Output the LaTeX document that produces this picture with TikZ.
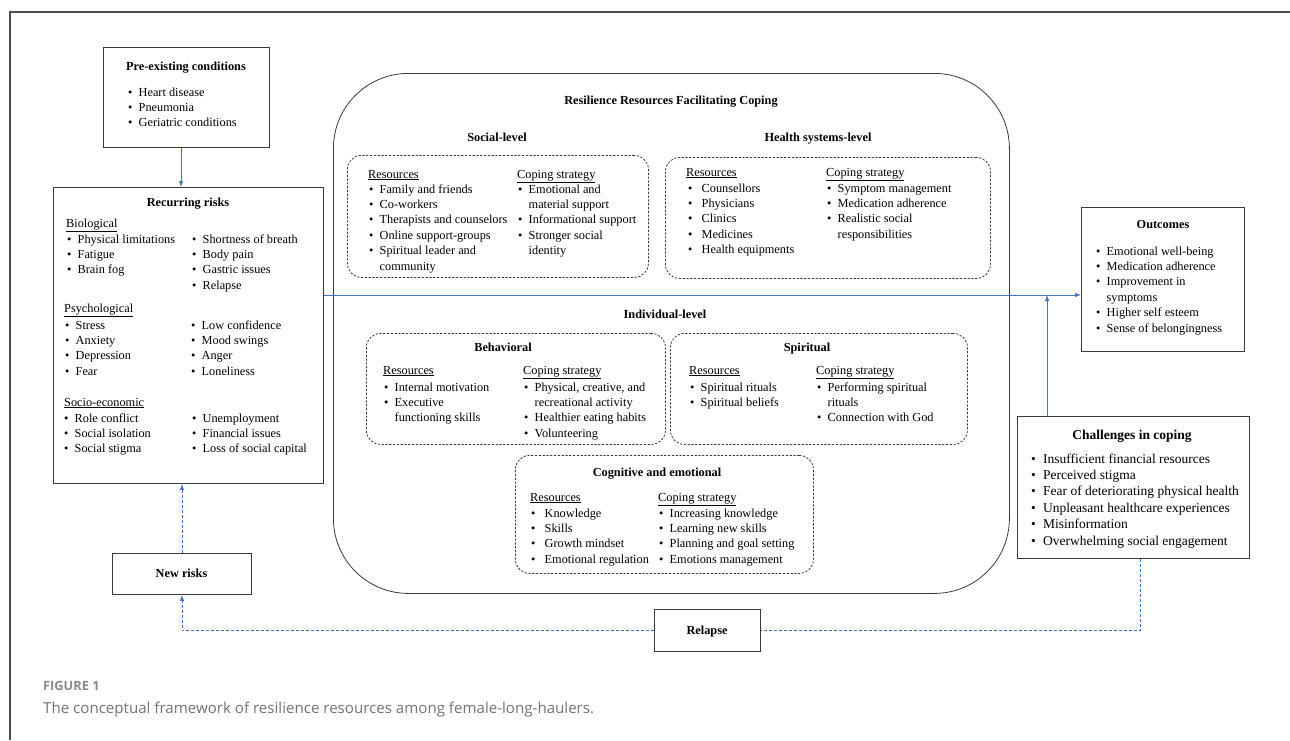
\documentclass[tikz,border=0pt]{standalone}
\usepackage{fontspec}
\setmainfont{Liberation Serif}
\newfontfamily\capfont{Open Sans}
\usetikzlibrary{arrows.meta,calc}
\definecolor{lnk}{HTML}{4472C4}
\definecolor{bxc}{HTML}{3A3A3A}
\definecolor{capa}{HTML}{8A8A8A}
\definecolor{capb}{HTML}{737373}
\newcommand\myb[1][10.5pt]{\makebox[#1][l]{\textbullet}}
\newcommand\myc[1][10.5pt]{\hspace*{#1}}
\tikzset{
  box/.style={draw=bxc, line width=0.9pt, fill=white, inner sep=0pt, anchor=north west},
  dbox/.style={draw=bxc, dash pattern=on 2.2pt off 1.6pt, line width=0.8pt, rounded corners=14pt, inner sep=0pt, anchor=north west},
  ttl/.style={font=\fontsize{12.3}{15}\selectfont\bfseries, inner sep=0pt, anchor=base},
  lst/.style={font=\fontsize{12.3}{15.4}\selectfont, align=left, inner sep=0pt, anchor=north west},
  hd/.style={font=\fontsize{12.3}{15.4}\selectfont, inner sep=0pt, anchor=base west},
  arr/.style={draw=lnk, line width=0.8pt, -{Latex[length=6pt,width=4.5pt]}},
  darr/.style={arr, dash pattern=on 3pt off 2pt},
  dln/.style={draw=lnk, line width=0.8pt, dash pattern=on 3pt off 2pt},
}
\begin{document}
\begin{tikzpicture}[x=1pt,y=-1pt]
\useasboundingbox (0,0) rectangle (1290,740);
% frame
\draw[line width=1.3pt, draw=black!70] (10,740) -- (10,12) -- (1290,12);

% big rounded container
\node[draw=bxc, line width=0.8pt, rounded corners=75pt, anchor=north west, minimum width=676, minimum height=520, inner sep=0pt] (rrc) at (333,73) {};
\node[ttl] (rrct) at (671,104) {Resilience Resources Facilitating Coping};

% Pre-existing conditions
\node[box, minimum width=166, minimum height=100] (pre) at (103,47) {};
\node[ttl] (pret) at (186,70) {Pre-existing conditions};
\node[lst] (prel) at (128,85.2) {\strut\myb Heart disease\\ \myb Pneumonia\\ \myb Geriatric conditions};

% Recurring risks
\node[box, minimum width=270, minimum height=296] (rr) at (53,187) {};
\node[ttl] (rrt) at (188,206) {Recurring risks};
\node[hd] (bioh) at (66,227) {\underline{Biological}};
\node[lst] (bio1) at (67,232.2) {\strut\myb Physical limitations\\ \myb Fatigue\\ \myb Brain fog};
\node[lst] (bio2) at (192,232.2) {\strut\myb Shortness of breath\\ \myb Body pain\\ \myb Gastric issues\\ \myb Relapse};
\node[hd] (psyh) at (64,312) {\underline{Psychological}};
\node[lst] (psy1) at (65,318.2) {\strut\myb Stress\\ \myb Anxiety\\ \myb Depression\\ \myb Fear};
\node[lst] (psy2) at (191,318.2) {\strut\myb Low confidence\\ \myb Mood swings\\ \myb Anger\\ \myb Loneliness};
\node[hd] (soch) at (64,406) {\underline{Socio-economic}};
\node[lst] (soc1) at (64,411.2) {\strut\myb Role conflict\\ \myb Social isolation\\ \myb Social stigma};
\node[lst] (soc2) at (192,411.2) {\strut\myb Unemployment\\ \myb Financial issues\\ \myb Loss of social capital};

% New risks & Relapse
\node[box, minimum width=139, minimum height=41] (newr) at (112,553) {};
\node[ttl] (newrt) at (181.5,577) {New risks};
\node[box, minimum width=106, minimum height=42] (relapse) at (654,609) {};
\node[ttl] (relapset) at (707,634) {Relapse};

% Social-level
\node[ttl] (slt) at (497,141) {Social-level};
\node[dbox, minimum width=301, minimum height=122] (sbox) at (347,155) {};
\node[hd] (srh) at (368,178) {\underline{Resources}};
\node[lst] (srl) at (369,182.2) {\strut\myb Family and friends\\ \myb Co-workers\\ \myb Therapists and counselors\\ \myb Online support-groups\\ \myb Spiritual leader and\\ \myc community};
\node[hd] (sch) at (517,178) {\underline{Coping strategy}};
\node[lst] (scl) at (518,182.2) {\strut\myb Emotional and\\ \myc material support\\ \myb Informational support\\ \myb Stronger social\\ \myc identity};

% Health systems-level
\node[ttl] (hlt) at (818,141) {Health systems-level};
\node[dbox, minimum width=325, minimum height=121] (hbox) at (665,157) {};
\node[hd] (hrh) at (686,176) {\underline{Resources}};
\node[lst] (hrl) at (688,181.2) {\strut\myb[13.5pt]Counsellors\\ \myb[13.5pt]Physicians\\ \myb[13.5pt]Clinics\\ \myb[13.5pt]Medicines\\ \myb[13.5pt]Health equipments};
\node[hd] (hch) at (826,176) {\underline{Coping strategy}};
\node[lst] (hcl) at (827,181.2) {\strut\myb Symptom management\\ \myb Medication adherence\\ \myb Realistic social\\ \myc responsibilities};

% Individual-level
\node[ttl] (ilt) at (665,318) {Individual-level};

% Behavioral
\node[dbox, minimum width=299, minimum height=111] (bbox) at (366,333) {};
\node[ttl] (bt) at (503,351) {Behavioral};
\node[hd] (brh) at (383,374) {\underline{Resources}};
\node[lst] (brl) at (384,380.2) {\strut\myb Internal motivation\\ \myb Executive\\ \myc functioning skills};
\node[hd] (bch) at (523,374) {\underline{Coping strategy}};
\node[lst] (bcl) at (524,380.2) {\strut\myb Physical, creative, and\\ \myc recreational activity\\ \myb Healthier eating habits\\ \myb Volunteering};

% Spiritual
\node[dbox, minimum width=297, minimum height=111] (spbox) at (670,333) {};
\node[ttl] (spt) at (807,351) {Spiritual};
\node[hd] (sprh) at (689,374) {\underline{Resources}};
\node[lst] (sprl) at (690,380.2) {\strut\myb Spiritual rituals\\ \myb Spiritual beliefs};
\node[hd] (spch) at (816,374) {\underline{Coping strategy}};
\node[lst] (spcl) at (817,380.2) {\strut\myb Performing spiritual\\ \myc rituals\\ \myb Connection with God};

% Cognitive and emotional
\node[dbox, minimum width=298, minimum height=118] (cbox) at (515,455) {};
\node[ttl] (ct) at (657,476) {Cognitive and emotional};
\node[hd] (crh) at (530,501) {\underline{Resources}};
\node[lst] (crl) at (531,506.2) {\strut\myb[13.5pt]Knowledge\\ \myb[13.5pt]Skills\\ \myb[13.5pt]Growth mindset\\ \myb[13.5pt]Emotional regulation};
\node[hd] (cch) at (658,501) {\underline{Coping strategy}};
\node[lst] (ccl) at (659,506.2) {\strut\myb Increasing knowledge\\ \myb Learning new skills\\ \myb Planning and goal setting\\ \myb Emotions management};

% Outcomes
\node[box, minimum width=163, minimum height=144] (out) at (1081,207) {};
\node[ttl] (outt) at (1163,228) {Outcomes};
\node[lst] (outl) at (1096,244.2) {\strut\myb Emotional well-being\\ \myb Medication adherence\\ \myb Improvement in\\ \myc symptoms\\ \myb Higher self esteem\\ \myb Sense of belongingness};

% Challenges in coping
\node[box, minimum width=232, minimum height=142] (chal) at (1017,416) {};
\node[ttl, font=\fontsize{13.5}{16}\selectfont\bfseries] (chalt) at (1132,439.5) {Challenges in coping};
\node[lst, font=\fontsize{13.5}{16.4}\selectfont] (chall) at (1031,451.5) {\strut\myb[12pt]Insufficient financial resources\\ \myb[12pt]Perceived stigma\\ \myb[12pt]Fear of deteriorating physical health\\ \myb[12pt]Unpleasant healthcare experiences\\ \myb[12pt]Misinformation\\ \myb[12pt]Overwhelming social engagement};

% connectors
\coordinate (cx1) at (181,0);
\coordinate (cx2) at (1140,0);
\coordinate (cx3) at (1047,0);
\coordinate (hy) at (0,295);
\draw[arr] (pre.south -| cx1) -- (rr.north -| cx1);
\draw[darr] (newr.north) -- (newr.north |- rr.south);
\draw[dln] (chal.south -| cx2) |- (relapse.east);
\draw[darr] (relapse.west) -| (newr.south);
\draw[arr] (rr.east |- hy) -- (out.west |- hy);
\draw[arr] (chal.north -| cx3) -- (cx3 |- hy);

% caption
\node[anchor=base west, inner sep=0pt, font=\capfont\bfseries\fontsize{12.8}{15}\selectfont, text=capa] (fig) at (43,690) {FIGURE 1};
\node[anchor=base west, inner sep=0pt, font=\capfont\fontsize{15.1}{18}\selectfont, text=capb] (cap) at (43,713) {The conceptual framework of resilience resources among female-long-haulers.};
\end{tikzpicture}
\end{document}
